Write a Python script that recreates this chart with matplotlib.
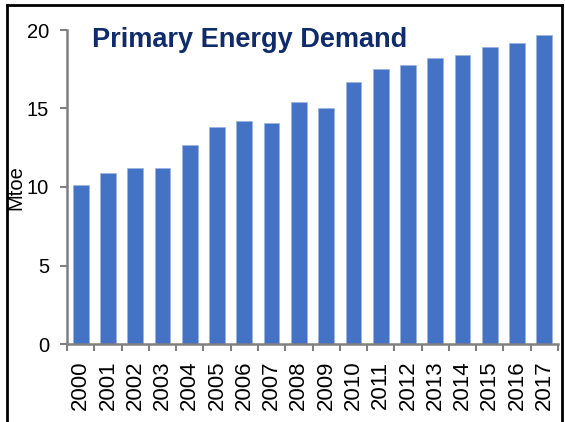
import matplotlib
matplotlib.use("Agg")
import matplotlib.pyplot as plt
from matplotlib.lines import Line2D
import numpy as np

years = ["2000", "2001", "2002", "2003", "2004", "2005", "2006", "2007", "2008",
         "2009", "2010", "2011", "2012", "2013", "2014", "2015", "2016", "2017"]
demand = [10.1, 10.9, 11.2, 11.2, 12.7, 13.85, 14.2, 14.05, 15.4,
          15.0, 16.7, 17.5, 17.8, 18.2, 18.4, 18.9, 19.15, 19.65]
yticks = [0, 5, 10, 15, 20]

plt.rcParams['font.family'] = ['Liberation Sans', 'DejaVu Sans']

W, H = 565, 422
fig = plt.figure(figsize=(W / 100, H / 100), dpi=100)
ax = fig.add_axes([67 / W, 1 - 344 / H, (558 - 67) / W, (344 - 30) / H])

x = np.arange(len(years))
ax.bar(x, demand, width=0.58, color="#4472C4", edgecolor="#9DB3E0", linewidth=0.5)

ax.set_xlim(-0.5, len(years) - 0.5)
ax.set_ylim(0, 20)
ax.set_yticks(yticks)
ax.set_yticklabels([str(v) for v in yticks], fontsize=14.5)
ax.set_xticks(x)
ax.set_xticklabels(years, rotation=90, fontsize=16)
ax.set_xticks(np.arange(-0.5, len(years), 1), minor=True)
ax.tick_params(axis='x', which='major', length=0, pad=12)
ax.tick_params(axis='x', which='minor', length=5, width=1.5, color="#808080", direction='out')
ax.tick_params(axis='y', length=5, width=1.5, color="#808080", direction='out', pad=8)

for s in ['top', 'right']:
    ax.spines[s].set_visible(False)
for s in ['left', 'bottom']:
    ax.spines[s].set_color("#808080")
    ax.spines[s].set_linewidth(1.8)

fig.text(16 / W, 1 - 188 / H, "Mtoe", rotation=90, fontsize=14.5,
         ha='center', va='center')

fig.text(92 / W, 1 - 40 / H, "Primary Energy Demand",
         fontsize=19.5, fontweight='bold', color="#0F2B6B", va='center', ha='left')

# outer frame (left, top, right)
lw = 2
fig.add_artist(Line2D([7 / W, 7 / W], [0, 1 - 5 / H], transform=fig.transFigure, color='black', lw=lw))
fig.add_artist(Line2D([7 / W, 562 / W], [1 - 5 / H, 1 - 5 / H], transform=fig.transFigure, color='black', lw=lw))
fig.add_artist(Line2D([562 / W, 562 / W], [0, 1 - 5 / H], transform=fig.transFigure, color='black', lw=lw))

fig.savefig("out.png", dpi=100)
